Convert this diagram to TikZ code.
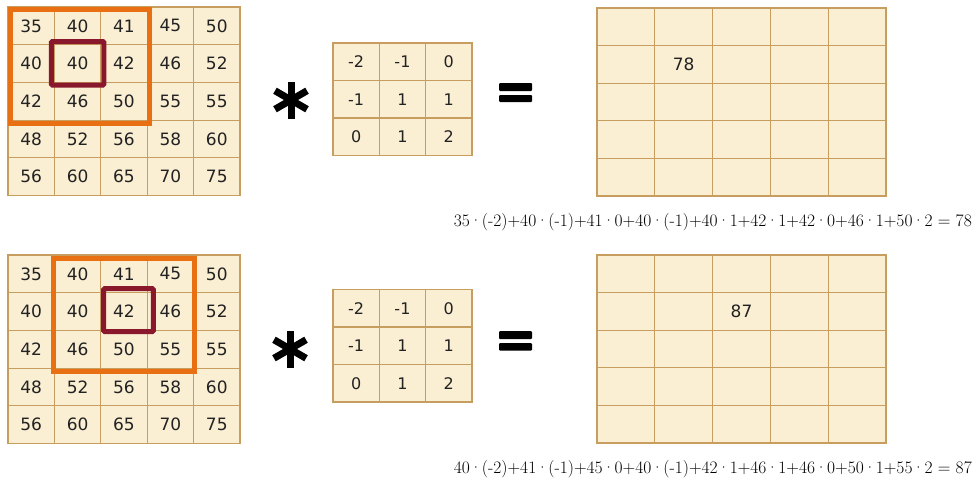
\documentclass[tikz,border=0pt]{standalone}
\usepackage{fontspec}
\newfontfamily\gridfont{DejaVu Sans}
\definecolor{parch}{RGB}{250,238,211}
\definecolor{gridline}{RGB}{200,158,96}
\definecolor{winorange}{RGB}{232,112,18}
\definecolor{centrered}{RGB}{138,24,44}
\definecolor{numtext}{RGB}{34,34,34}
\newcommand\mdot{\kern-0.3pt·\kern-0.3pt}
\tikzset{
  cell/.style={draw=gridline,line width=1.2pt,fill=parch,inner sep=0pt,
    text=numtext,font=\gridfont\fontsize{17}{17}\selectfont},
  incell/.style={cell,minimum width=46.4pt,minimum height=37.7pt},
  kercell/.style={cell,minimum width=46.3pt,minimum height=37.5pt,
    font=\gridfont\fontsize{16}{16}\selectfont},
  outcell/.style={cell,minimum width=57.8pt,minimum height=37.6pt},
  window/.style={draw=winorange,line width=5pt},
  centre/.style={draw=centrered,line width=5pt,rounded corners=1pt},
  conv/.style={line width=7pt,black},
  eqn/.style={font=\fontsize{17.5}{17}\selectfont,inner sep=0pt,anchor=base east}
}
\begin{document}
\begin{tikzpicture}[x=1pt,y=-1pt]
  \useasboundingbox (0,0) rectangle (978,480);
  % input images
  \foreach \top/\id in {7/ta,255/tb} {
    \foreach \row [count=\r from 0] in {{35,40,41,45,50},{40,40,42,46,52},{42,46,50,55,55},{48,52,56,58,60},{56,60,65,70,75}} {
      \foreach \v [count=\c from 0] in \row {
        \node[incell] (\id-\r-\c) at ({8+46.4*(\c+0.5)},{\top+37.7*(\r+0.5)}) {\v};
      }
    }
  }
  % kernels
  \foreach \top/\id in {43/ka,289.5/kb} {
    \foreach \row [count=\r from 0] in {{-2,-1,0},{-1,1,1},{0,1,2}} {
      \foreach \v [count=\c from 0] in \row {
        \node[kercell] (\id-\r-\c) at ({333+46.3*(\c+0.5)},{\top+37.5*(\r+0.5)}) {\v};
      }
    }
  }
  % output images
  \foreach \top/\id in {8/oa,255/ob} {
    \foreach \r in {0,...,4} {
      \foreach \c in {0,...,4} {
        \node[outcell] (\id-\r-\c) at ({597+57.8*(\c+0.5)},{\top+37.6*(\r+0.5)}) {};
      }
    }
  }
  \node[text=numtext,font=\gridfont\fontsize{17}{17}\selectfont] (resa) at (oa-1-1) {78};
  \node[text=numtext,font=\gridfont\fontsize{17}{17}\selectfont] (resb) at (ob-1-2) {87};
  % sliding windows
  \draw[window] ([shift={(3,3)}]ta-0-0.north west) rectangle ([shift={(2,3)}]ta-2-2.south east);
  \draw[window] ([shift={(0,4)}]tb-0-1.north west) rectangle ([shift={(0,2.5)}]tb-2-3.south east);
  \draw[centre] ([shift={(-2.5,-2.5)}]ta-1-1.north west) rectangle ([shift={(2.5,2)}]ta-1-1.south east);
  \draw[centre] ([shift={(3.5,-3.5)}]tb-1-2.north west) rectangle ([shift={(5.5,0.5)}]tb-1-2.south east);
  % operators
  \coordinate (stara) at (291,100);
  \coordinate (starb) at (290,349);
  \foreach \s in {stara,starb} {
    \foreach \a in {90,30,150} {
      \draw[conv] (\s) ++(\a:18.5) -- ++(\a+180:37);
    }
  }
  \fill[rounded corners=1pt] (499,83) rectangle (532,91) (499,95) rectangle (532,102);
  \fill[rounded corners=1pt] (499,331) rectangle (532,339) (499,343) rectangle (532,350.5);
  % sums
  \node[eqn] (suma) at (972,226) {35\mdot(-2)+40\mdot(-1)+41\mdot0+40\mdot(-1)+40\mdot1+42\mdot1+42\mdot0+46\mdot1+50\mdot2 = 78};
  \node[eqn] (sumb) at (972,473) {40\mdot(-2)+41\mdot(-1)+45\mdot0+40\mdot(-1)+42\mdot1+46\mdot1+46\mdot0+50\mdot1+55\mdot2 = 87};
\end{tikzpicture}
\end{document}
